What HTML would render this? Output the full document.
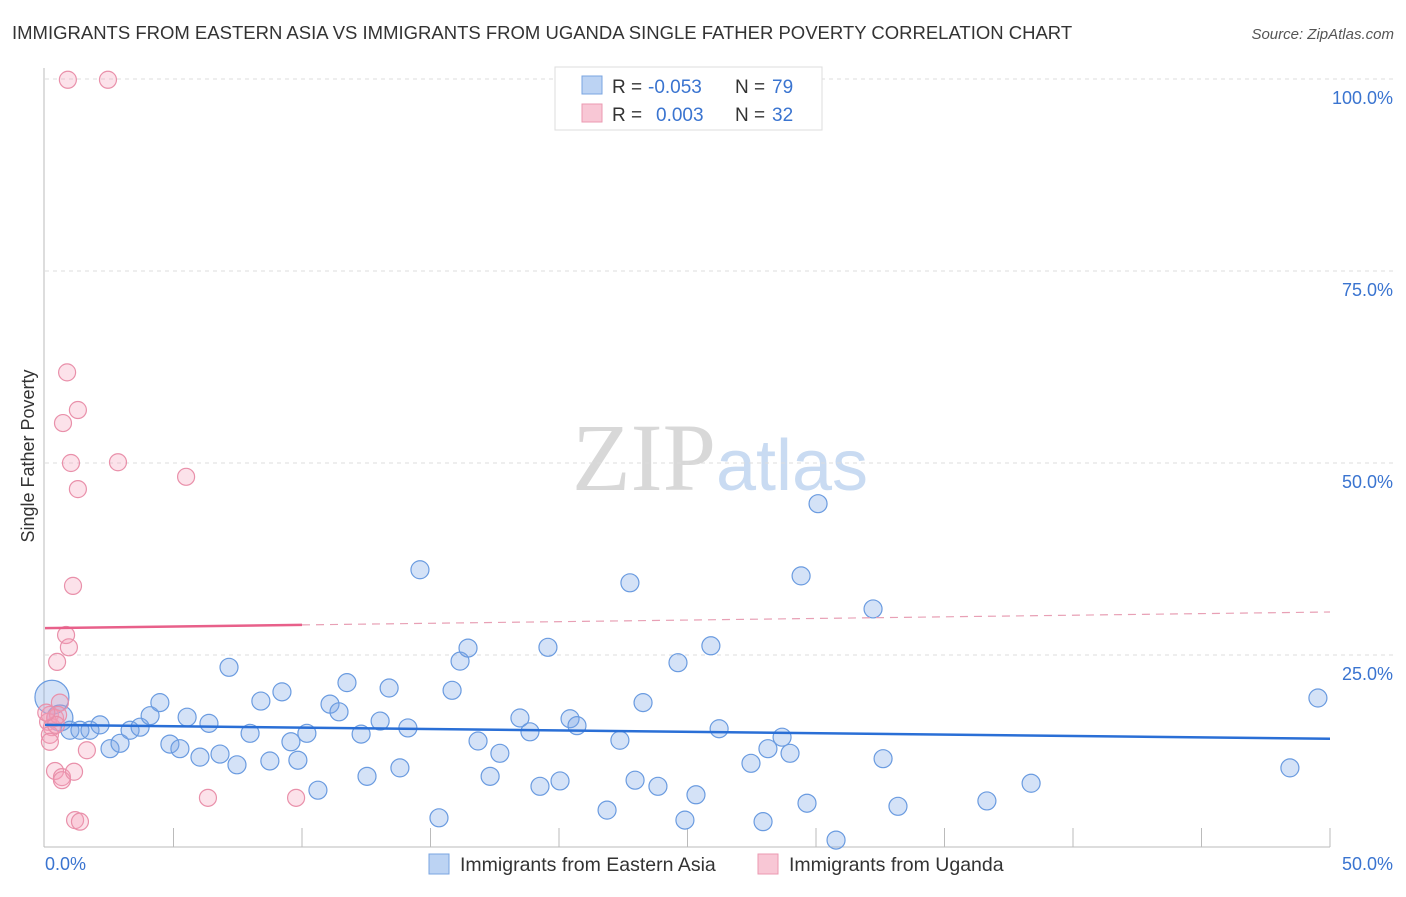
<!DOCTYPE html>
<html><head><meta charset="utf-8"><style>
body{margin:0;background:#fff;font-family:"Liberation Sans",sans-serif}
svg text{font-family:"Liberation Sans",sans-serif}
</style></head><body>
<svg id="chart" width="1406" height="892" viewBox="0 0 1406 892" xmlns="http://www.w3.org/2000/svg">
<text x="12" y="39" font-size="18.5" fill="#333">IMMIGRANTS FROM EASTERN ASIA VS IMMIGRANTS FROM UGANDA SINGLE FATHER POVERTY CORRELATION CHART</text>
<text x="1394" y="39" font-size="15" fill="#555" font-style="italic" text-anchor="end">Source: ZipAtlas.com</text>
<text x="720" y="490" font-size="96" text-anchor="middle"><tspan fill="#d8d8d8" font-family="Liberation Serif">ZIP</tspan><tspan fill="#c9dbf2" font-size="72">atlas</tspan></text>
<text transform="translate(34,456) rotate(-90)" font-size="18" fill="#333" text-anchor="middle">Single Father Poverty</text>
<g id="grid"></g><g id="axes"></g><g id="marks"></g>
<g>
<rect x="555" y="67" width="267" height="63" fill="#fff" stroke="#ddd"/>
<rect x="582" y="76" width="20" height="18" fill="#bcd3f3" stroke="#7aa4e0"/>
<rect x="582" y="104" width="20" height="18" fill="#f8c7d5" stroke="#eb9ab1"/>
<text x="612" y="93" font-size="19" fill="#333">R =</text>
<text x="648" y="93" font-size="19" fill="#3a74d0">-0.053</text>
<text x="735" y="93" font-size="19" fill="#333">N =</text>
<text x="772" y="93" font-size="19" fill="#3a74d0">79</text>
<text x="612" y="121" font-size="19" fill="#333">R =</text>
<text x="656" y="121" font-size="19" fill="#3a74d0">0.003</text>
<text x="735" y="121" font-size="19" fill="#333">N =</text>
<text x="772" y="121" font-size="19" fill="#3a74d0">32</text>
</g>
<g>
<rect x="429" y="854" width="20" height="20" fill="#bcd3f3" stroke="#7aa4e0"/>
<text x="460" y="871" font-size="19.5" fill="#333">Immigrants from Eastern Asia</text>
<rect x="758" y="854" width="20" height="20" fill="#f8c7d5" stroke="#eb9ab1"/>
<text x="789" y="871" font-size="19.5" fill="#333">Immigrants from Uganda</text>
</g>
</svg>
<script>
const blueX=[0.27,0.58,0.97,1.36,1.75,2.14,2.53,2.92,3.31,3.70,4.09,4.47,4.86,5.25,5.53,6.03,6.38,6.81,7.16,7.47,7.98,8.40,8.75,9.22,9.57,9.84,10.19,10.62,11.09,11.44,11.75,12.30,12.53,13.04,13.39,13.81,14.12,14.59,15.33,15.84,16.15,16.46,16.85,17.32,17.70,18.48,18.87,19.26,19.57,20.04,20.43,20.70,21.87,22.37,22.76,22.96,23.27,23.85,24.63,24.90,25.33,25.91,26.23,27.47,27.94,28.13,28.68,28.99,29.42,29.65,30.08,30.78,32.22,32.61,33.19,36.65,38.37,48.44,49.53];
const blueY=[19.5,16.8,15.2,15.2,15.2,15.9,12.8,13.5,15.2,15.6,17.1,18.8,13.4,12.8,16.9,11.7,16.1,12.1,23.4,10.7,14.8,19.0,11.2,20.2,13.7,11.3,14.8,7.4,18.6,17.6,21.4,14.7,9.2,16.4,20.7,10.3,15.5,36.1,3.8,20.4,24.2,25.9,13.8,9.2,12.2,16.8,15.0,7.9,26.0,8.6,16.7,15.8,4.8,13.9,34.4,8.7,18.8,7.9,24.0,3.5,6.8,26.2,15.4,10.9,3.3,12.8,14.3,12.2,35.3,5.7,44.7,0.9,31.0,11.5,5.3,6.0,8.3,10.3,19.4];
const pinkX=[0.89,2.45,0.86,1.28,0.70,1.01,2.84,1.28,5.49,1.09,0.82,0.93,0.47,0.58,0.19,0.39,0.12,0.27,0.19,0.19,0.39,0.66,0.66,1.13,1.63,6.34,9.77,1.17,1.36,0.51,0.43,0.05];
const pinkY=[99.9,99.9,61.8,56.9,55.2,50.0,50.1,46.6,48.2,34.0,27.6,26.0,24.1,18.8,17.2,16.8,16.3,15.6,14.6,13.7,9.9,9.1,8.7,9.8,12.6,6.4,6.4,3.5,3.3,17.2,15.9,17.5];
const blueTrend=[15.9,14.1];
const pinkTrend=[28.5,30.6];
const yTicks=[25,50,75,100];
const yTickLabels=["25.0%","50.0%","75.0%","100.0%"];
const xTicks=[0,5,10,15,20,25,30,35,40,45,50];

const NS="http://www.w3.org/2000/svg";
const sx=v=>45+v*25.7, sy=v=>847-v*7.68;
function mk(parent,tag,attrs){const e=document.createElementNS(NS,tag);for(const k in attrs)e.setAttribute(k,attrs[k]);document.getElementById(parent).appendChild(e);return e;}
yTicks.forEach((t,i)=>{
  const l=mk('grid','line',{x1:45,x2:1393,y1:sy(t),y2:sy(t),stroke:'#ddd','stroke-dasharray':'4,4'});
  
  
  const tx=mk('axes','text',{x:1393,y:sy(t)+25,'font-size':18,fill:'#3a74d0','text-anchor':'end'});
  tx.textContent=yTickLabels[i];
  
  
});
let a=mk('axes','line',{x1:44,x2:44,y1:68,y2:847,stroke:'#bbb'});


a=mk('axes','line',{x1:44,x2:1330,y1:847,y2:847,stroke:'#bbb'});


xTicks.forEach((t,i)=>{if(i===0)return;
  const l=mk('axes','line',{x1:sx(t),x2:sx(t),y1:828,y2:847,stroke:'#bbb'});
  
  
});
let t0=mk('axes','text',{x:45,y:870,'font-size':18,fill:'#3a74d0'});t0.textContent="0.0%";


let t1=mk('axes','text',{x:1393,y:870,'font-size':18,fill:'#3a74d0','text-anchor':'end'});t1.textContent="50.0%";



blueX.forEach((x,i)=>{
  const r=i===0?17:(i===1?13:9);
  const c=mk('marks','circle',{cx:sx(x),cy:sy(blueY[i]),r:r,fill:'rgba(120,165,230,0.32)',stroke:'#6a9be0','stroke-width':1.2});
  
  
});
pinkX.forEach((x,i)=>{
  const c=mk('marks','circle',{cx:sx(x),cy:sy(pinkY[i]),r:8.5,fill:'rgba(245,160,185,0.3)',stroke:'#e990aa','stroke-width':1.2});
  
  
});
let bl=mk('marks','line',{x1:sx(0),x2:sx(50),y1:sy(blueTrend[0]),y2:sy(blueTrend[1]),stroke:'#2a6fd6','stroke-width':2.5});


const pAt=x=>pinkTrend[0]+(pinkTrend[1]-pinkTrend[0])*x/50;
let pl=mk('marks','line',{x1:sx(0),x2:sx(10),y1:sy(pAt(0)),y2:sy(pAt(10)),stroke:'#e8608a','stroke-width':2.5});


let pd=mk('marks','line',{x1:sx(10),x2:sx(50),y1:sy(pAt(10)),y2:sy(pAt(50)),stroke:'#e8a0b5','stroke-width':1.2,'stroke-dasharray':'8,6'});


</script>
</body></html>
